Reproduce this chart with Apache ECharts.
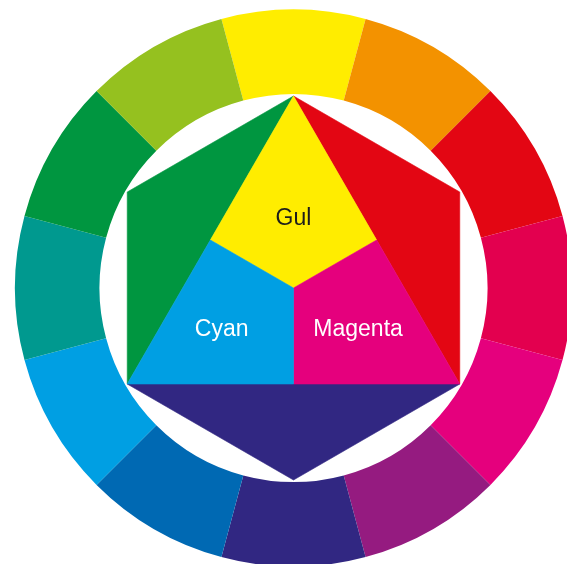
<!DOCTYPE html>
<html>
<head>
  <meta charset="utf-8">
  <title>Fargecirkel</title>
  <script src="https://cdn.jsdelivr.net/npm/echarts@6/dist/echarts.min.js"></script>
  <style>
    html, body { margin: 0; padding: 0; background: #fff; }
  </style>
</head>
<body>
  <div id="main" style="width: 567px;height:564px;"></div>
  <script type="text/javascript">
    // ytre ring: 12 like store sektorer, med klokka fra gult oppe
    var ringNames = ['gul', 'oransje', 'rød', 'karmin', 'magenta', 'lilla',
      'fiolett', 'blå', 'cyan', 'blågrønn', 'grønn', 'gulgrønn'];
    var ringValues = [1, 1, 1, 1, 1, 1, 1, 1, 1, 1, 1, 1];
    var ringColors = ['#ffed00', '#f39200', '#e30613', '#e3004f', '#e5007d', '#951b80',
      '#312782', '#0069b3', '#009fe3', '#00998f', '#009640', '#95c11f'];

    // punkter i sekskanten, [radius, vinkel] (vinkel 0 = rett opp, med klokka)
    var points = {
      top: [192, 0], ur: [192, 60], lr: [192, 120], bot: [192, 180], ll: [192, 240], ul: [192, 300],
      c: [0, 0], mR: [96, 60], mB: [96, 180], mL: [96, 300]
    };

    // flater i midten
    var shapeNames = ['grønn', 'rød', 'fiolett', 'Gul', 'Magenta', 'Cyan'];
    var shapePoints = [
      ['top', 'ul', 'll'],
      ['top', 'ur', 'lr'],
      ['ll', 'bot', 'lr'],
      ['top', 'mR', 'c', 'mL'],
      ['mR', 'lr', 'mB', 'c'],
      ['c', 'mB', 'll', 'mL']
    ];
    var shapeColors = ['#009640', '#e30613', '#312782', '#ffed00', '#e5007d', '#009fe3'];

    // tekst i de tre primærfeltene
    var labelText = ['', '', '', 'Gul', 'Magenta', 'Cyan'];
    var labelAt = [null, null, null, [69, 0], [77, 123], [83, 240]];
    var labelColors = ['', '', '', '#1d1d1b', '#ffffff', '#ffffff'];

    var myChart = echarts.init(document.getElementById('main'));

    var option = {
      backgroundColor: '#ffffff',
      animation: false,
      polar: { center: [293.5, 288], radius: 278.5 },
      angleAxis: {
        show: false, min: 0, max: 360, startAngle: 90, clockwise: true,
        axisLine: { show: false }, splitLine: { show: false }, axisLabel: { show: false }, axisTick: { show: false }
      },
      radiusAxis: {
        show: false, min: 0, max: 278.5,
        axisLine: { show: false }, splitLine: { show: false }, axisLabel: { show: false }, axisTick: { show: false }
      },
      series: [
        {
          type: 'pie',
          silent: true,
          center: [293.5, 288],
          radius: [194, 278.5],
          startAngle: 105,
          clockwise: true,
          label: { show: false },
          labelLine: { show: false },
          itemStyle: { borderWidth: 0 },
          data: ringNames.map(function (n, i) {
            return { name: n, value: ringValues[i], itemStyle: { color: ringColors[i] } };
          })
        },
        {
          type: 'custom',
          coordinateSystem: 'polar',
          silent: true,
          data: shapeNames.map(function (n, i) {
            return { name: n, value: points[shapePoints[i][0]] };
          }),
          renderItem: function (params, api) {
            var i = params.dataIndex;
            var pts = shapePoints[i].map(function (k) { return api.coord(points[k]); });
            var children = [{
              type: 'polygon',
              shape: { points: pts },
              style: { fill: shapeColors[i], stroke: shapeColors[i], lineWidth: 0.6 }
            }];
            if (labelText[i]) {
              var p = api.coord(labelAt[i]);
              children.push({
                type: 'text',
                x: p[0], y: p[1],
                style: {
                  text: labelText[i],
                  fill: labelColors[i],
                  font: 'normal 23px "Liberation Sans", Arial, sans-serif',
                  align: 'center',
                  verticalAlign: 'middle'
                }
              });
            }
            return { type: 'group', children: children };
          }
        }
      ]
    };

    myChart.setOption(option);
  </script>
</body>
</html>
